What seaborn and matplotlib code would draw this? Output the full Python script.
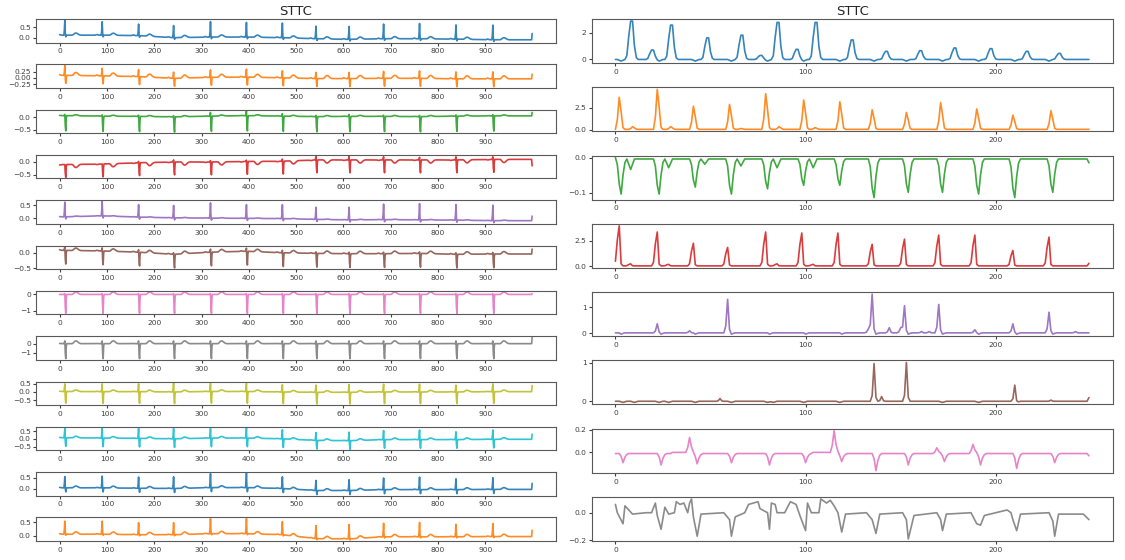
import numpy as np
import matplotlib
matplotlib.use("Agg")
import matplotlib.pyplot as plt
import seaborn as sns

sns.set_style("ticks")
plt.rcParams["font.family"] = ["DejaVu Sans"]
plt.rcParams["axes.edgecolor"] = "0.35"
plt.rcParams["xtick.color"] = "0.25"
plt.rcParams["ytick.color"] = "0.25"
plt.rcParams["xtick.labelsize"] = 5.4
plt.rcParams["ytick.labelsize"] = 5.4
plt.rcParams["xtick.major.size"] = 2.2
plt.rcParams["ytick.major.size"] = 2.2
plt.rcParams["xtick.major.pad"] = 2.0
plt.rcParams["ytick.major.pad"] = 1.5

title = "STTC"
colors = sns.color_palette("tab10")

# ---------------- left: 12 raw leads, 1000 samples ----------------
n_left = 1000
beats = [11, 90, 167, 241, 319, 395, 471, 542, 612, 685, 761, 838, 916]

# baseline level at each beat (per lead)
lead_base = [
    [0.12, 0.12, 0.10, 0.00, 0.03, 0.03, 0.00, -0.05, -0.08, -0.05, -0.05, -0.07, -0.10],
    [0.10, 0.08, 0.05, -0.02, 0.02, 0.03, 0.00, -0.03, -0.03, -0.02, -0.02, -0.04, -0.04],
    [0.07, 0.05, 0.04, 0.02, 0.05, 0.07, 0.05, 0.03, 0.04, 0.04, 0.03, 0.05, 0.06],
    [-0.10, -0.08, -0.03, 0.00, 0.00, 0.02, 0.03, 0.08, 0.08, 0.08, 0.08, 0.08, 0.10],
    [0.05, 0.09, 0.04, 0.01, 0.00, -0.01, -0.02, -0.05, -0.07, -0.06, -0.07, -0.08, -0.10],
    [0.08, 0.06, 0.02, -0.05, 0.02, 0.05, 0.00, -0.02, -0.03, -0.03, -0.02, -0.05, -0.04],
    [0.00, 0.00, 0.00, 0.00, 0.00, 0.00, 0.00, 0.00, 0.00, 0.00, 0.00, 0.00, 0.00],
    [0.00, 0.00, 0.00, 0.00, 0.00, 0.00, 0.00, 0.00, 0.00, 0.00, 0.00, 0.00, 0.00],
    [0.03, 0.02, 0.02, 0.00, 0.03, 0.03, 0.00, -0.02, -0.02, 0.00, 0.00, 0.00, 0.02],
    [0.07, 0.05, 0.03, 0.00, 0.05, 0.05, 0.00, -0.10, -0.12, -0.05, -0.05, -0.05, -0.03],
    [0.05, 0.05, 0.03, 0.02, 0.06, 0.06, 0.02, -0.07, -0.07, -0.03, -0.03, -0.03, -0.02],
    [0.05, 0.05, 0.03, 0.03, 0.07, 0.07, 0.03, -0.12, -0.13, -0.05, -0.05, -0.05, -0.04],
]
# R wave height above baseline at each beat
lead_r = [
    [0.72, 0.64, 0.55, 0.58, 0.74, 0.70, 0.70, 0.60, 0.62, 0.70, 0.73, 0.68, 0.70],
    [0.40, 0.30, 0.28, 0.25, 0.30, 0.32, 0.28, 0.25, 0.25, 0.28, 0.30, 0.28, 0.28],
    [0.05, 0.05, 0.05, 0.05, 0.15, 0.20, 0.10, 0.05, 0.08, 0.05, 0.05, 0.05, 0.05],
    [0.00, 0.00, 0.05, 0.08, 0.05, 0.05, 0.08, 0.15, 0.15, 0.12, 0.10, 0.12, 0.10],
    [0.58, 0.57, 0.49, 0.49, 0.60, 0.54, 0.55, 0.48, 0.50, 0.61, 0.64, 0.61, 0.61],
    [0.12, 0.10, 0.08, 0.05, 0.10, 0.10, 0.08, 0.05, 0.05, 0.05, 0.05, 0.05, 0.05],
    [0.05, 0.05, 0.05, 0.05, 0.05, 0.05, 0.05, 0.05, 0.05, 0.05, 0.05, 0.05, 0.05],
    [0.30, 0.30, 0.30, 0.30, 0.30, 0.30, 0.30, 0.30, 0.30, 0.30, 0.30, 0.30, 0.30],
    [0.47, 0.48, 0.48, 0.58, 0.50, 0.50, 0.45, 0.45, 0.48, 0.48, 0.48, 0.42, 0.48],
    [0.60, 0.62, 0.64, 0.66, 0.62, 0.65, 0.58, 0.50, 0.55, 0.58, 0.62, 0.50, 0.60],
    [0.50, 0.52, 0.50, 0.52, 0.62, 0.64, 0.52, 0.45, 0.48, 0.52, 0.56, 0.48, 0.52],
    [0.50, 0.50, 0.46, 0.46, 0.58, 0.58, 0.50, 0.50, 0.55, 0.52, 0.55, 0.48, 0.50],
]
lead_s = [-0.08, -0.32, -0.62, -0.50, -0.08, -0.45, -1.15, -1.65, -0.72, -0.55, -0.18, -0.04]
lead_t = [0.10, 0.12, 0.04, -0.12, 0.02, 0.08, 0.15, 0.30, 0.10, 0.10, 0.08, 0.09]
lead_p = [0.03, 0.03, 0.01, -0.02, 0.01, 0.02, 0.00, 0.02, 0.02, 0.02, 0.02, 0.02]
lead_end = [0.20, 0.15, 0.20, -0.15, 0.08, 0.12, 0.05, 0.70, 0.40, 0.30, 0.25, 0.20]
left_yticks = [[0, 0.5], [-0.25, 0, 0.25], [-0.5, 0], [-0.5, 0], [0, 0.5], [-0.5, 0],
               [-1, 0], [-1, 0], [-0.5, 0, 0.5], [-0.5, 0, 0.5], [0, 0.5], [0, 0.5]]

# beat template (offsets relative to R peak)
qrs_off = [-2, -1, 0, 1, 2, 3]
r_shape = [0.0, 0.35, 1.0, 0.2, 0.0, 0.0]
s_shape = [0.0, 0.0, 0.0, 0.7, 1.0, 0.2]
t_off = list(range(16, 36))
t_shape = [0.05, 0.15, 0.3, 0.5, 0.7, 0.85, 0.95, 1.0, 1.0, 0.95,
           0.85, 0.7, 0.55, 0.4, 0.28, 0.18, 0.1, 0.05, 0.02, 0.0]
p_off = [-14, -13, -12, -11, -10, -9, -8, -7]
p_shape = [0.2, 0.5, 0.8, 1.0, 0.8, 0.5, 0.2, 0.05]


def build_lead(i):
    y = np.interp(np.arange(n_left), beats, lead_base[i])
    for k, b in enumerate(beats):
        for off, v in zip(qrs_off, r_shape):
            if 0 <= b + off < n_left:
                y[b + off] += v * lead_r[i][k]
        for off, v in zip(qrs_off, s_shape):
            if 0 <= b + off < n_left:
                y[b + off] += v * lead_s[i]
        for off, v in zip(t_off, t_shape):
            if 0 <= b + off < n_left:
                y[b + off] += v * lead_t[i]
        for off, v in zip(p_off, p_shape):
            if 0 <= b + off < n_left:
                y[b + off] += v * lead_p[i]
    y[-1] = lead_end[i]
    return y


# ---------------- right: 8 feature channels, 250 samples ----------------
n_right = 250

# channel 1 (blue)
c1_pos = [8, 19, 29, 48, 66, 76, 85, 95, 105, 124, 142, 160, 178, 197, 216, 233]
c1_amp = [2.85, 0.7, 2.55, 1.6, 1.8, 0.3, 2.75, 0.75, 2.75, 1.45, 0.6, 0.65, 0.85, 0.8, 0.6, 0.45]
c1_dip_pos = [3, 23, 42, 61, 80, 99, 118, 136, 153, 172, 191, 210, 228]
# channel 2 (orange)
c2_pos = [2, 9, 22, 29, 41, 60, 66, 79, 86, 99, 105, 118, 135, 153, 171, 190, 209, 229]
c2_amp = [3.6, 0.3, 4.5, 0.3, 2.6, 2.8, 0.1, 4.0, 0.3, 3.3, 0.2, 3.1, 2.2, 1.9, 3.0, 2.3, 1.6, 2.1]
# channel 3 (green)
c3_pos = [3, 23, 42, 61, 80, 99, 118, 136, 154, 172, 191, 210, 230]
c3_amp = [-0.1, -0.1, -0.08, -0.1, -0.085, -0.075, -0.075, -0.11, -0.095, -0.095, -0.1, -0.11, -0.095]
c3_sub_pos = [8, 28, 47, 66, 85, 104]
c3_sub_amp = [-0.03, -0.025, -0.015, -0.02, -0.025, -0.025]
# channel 4 (red)
c4_pos = [2, 8, 22, 28, 41, 59, 79, 85, 98, 104, 117, 135, 152, 170, 189, 209, 228]
c4_amp = [3.9, 0.2, 3.3, 0.15, 2.2, 1.8, 3.3, 0.2, 3.2, 0.15, 3.2, 2.1, 2.6, 3.0, 3.0, 1.5, 2.8]
# channel 5 (purple)
c5_pos = [22, 39, 59, 133, 135, 144, 150, 152, 161, 165, 170, 189, 209, 228, 242]
c5_amp = [0.35, 0.08, 1.3, 0.15, 1.5, 0.2, 0.2, 1.05, 0.05, 0.05, 1.1, 0.12, 0.35, 0.8, 0.05]
c5_dip_pos = [3, 24, 42, 61, 81, 100, 119, 137, 154, 172, 191, 211, 230]
# channel 6 (brown)
c6_pos = [55, 136, 140, 153, 210, 229]
c6_amp = [0.07, 0.97, 0.12, 1.0, 0.43, 0.03]
c6_dip_pos = [4, 10, 23, 28, 42, 61, 80, 83, 99, 118, 172, 191, 211]
# channel 7 (pink)
c7_pos = [4, 24, 39, 43, 61, 81, 100, 115, 119, 137, 154, 169, 173, 188, 192, 211, 231]
c7_amp = [-0.08, -0.1, 0.14, -0.09, -0.08, -0.1, -0.08, 0.2, -0.07, -0.15, -0.1, 0.05,
          -0.07, 0.08, -0.1, -0.13, -0.08]
# channel 8 (gray) read point by point
c8_x = [0, 1, 4, 5, 7, 9, 16, 19, 21, 22, 24, 26, 28, 31, 32, 34, 36, 38, 39, 40, 41, 43, 45,
        57, 60, 61, 63, 68, 70, 75, 76, 80, 81, 82, 84, 85, 89, 92, 95, 97, 100, 101, 103,
        107, 108, 111, 113, 115, 117, 119, 121, 132, 135, 137, 139, 151, 153, 154, 157,
        169, 171, 172, 174, 187, 190, 192, 194, 206, 208, 209, 211, 213, 228, 230, 231, 233,
        246, 249]
c8_y = [0.06, 0.0, -0.08, 0.05, 0.02, -0.01, 0.0, 0.0, 0.07, -0.02, -0.12, 0.04, -0.01, 0.0,
        0.08, 0.06, 0.07, 0.0, 0.07, 0.1, -0.03, -0.17, -0.01, 0.0, -0.05, -0.17, -0.03, 0.0,
        0.06, 0.08, 0.03, 0.0, -0.12, 0.07, 0.06, 0.0, 0.0, 0.08, 0.06, -0.02, -0.13, 0.07,
        0.0, 0.0, 0.1, 0.07, 0.09, 0.05, 0.0, -0.14, -0.01, 0.0, -0.05, -0.15, -0.01, 0.0,
        -0.05, -0.19, -0.02, 0.0, -0.05, -0.13, -0.01, 0.0, -0.08, -0.09, -0.02, 0.02, 0.0,
        -0.05, -0.13, -0.01, 0.0, -0.06, -0.17, -0.01, -0.01, -0.05]

right_yticks = [[0, 2], [0, 2.5], [-0.1, 0], [0, 2.5], [0, 1], [0, 1], [0, 0.2], [-0.2, 0]]


def pulses(y, pos, amp, off, shape):
    for p, a in zip(pos, amp):
        for o, v in zip(off, shape):
            if 0 <= p + o < len(y):
                y[p + o] += v * a
    return y


def build_right():
    out = []
    y = np.zeros(n_right)
    pulses(y, c1_pos, c1_amp, [-2, -1, 0, 1, 2, 3], [0.1, 0.6, 1.0, 1.0, 0.35, 0.05])
    pulses(y, c1_dip_pos, [-0.12] * len(c1_dip_pos), [-1, 0, 1], [0.5, 1.0, 0.5])
    out.append(y)
    y = np.full(n_right, 0.05)
    pulses(y, c2_pos, c2_amp, [-1, 0, 1, 2], [0.3, 1.0, 0.55, 0.05])
    out.append(y)
    y = np.full(n_right, -0.004)
    y[:3] = 0.0
    pulses(y, c3_pos, c3_amp, [-2, -1, 0, 1, 2], [0.2, 0.75, 1.0, 0.45, 0.1])
    pulses(y, c3_sub_pos, c3_sub_amp, [-1, 0, 1], [0.5, 1.0, 0.5])
    y[-1] = -0.015
    out.append(y)
    y = np.full(n_right, 0.05)
    pulses(y, c4_pos, c4_amp, [-2, -1, 0, 1], [0.1, 0.65, 1.0, 0.05])
    y[0] = 0.5
    y[-1] = 0.3
    out.append(y)
    y = np.full(n_right, 0.01)
    pulses(y, c5_pos, c5_amp, [-1, 0, 1], [0.2, 1.0, 0.1])
    pulses(y, c5_dip_pos, [-0.05] * len(c5_dip_pos), [0, 1], [1.0, 0.4])
    out.append(y)
    y = np.full(n_right, 0.005)
    pulses(y, c6_pos, c6_amp, [-1, 0, 1], [0.15, 1.0, 0.1])
    pulses(y, c6_dip_pos, [-0.03] * len(c6_dip_pos), [-1, 0, 1], [0.5, 1.0, 0.5])
    y[-1] = 0.1
    out.append(y)
    y = np.full(n_right, -0.01)
    y[30:39] = 0.0
    y[104:115] = 0.0
    pulses(y, c7_pos, c7_amp, [-1, 0, 1, 2], [0.3, 1.0, 0.4, 0.1])
    y[-1] = -0.03
    out.append(y)
    return out


fig = plt.figure(figsize=(11.25, 5.6), dpi=100)
gs_left = fig.add_gridspec(12, 1, left=0.032, right=0.494, top=0.966, bottom=0.034, hspace=0.93)
gs_right = fig.add_gridspec(8, 1, left=0.526, right=0.989, top=0.966, bottom=0.034, hspace=0.55)

xs = np.arange(n_left)
for i in range(12):
    ax = fig.add_subplot(gs_left[i])
    sns.lineplot(x=xs, y=build_lead(i), ax=ax, color=colors[i % 10], linewidth=1.2,
                 alpha=0.9, estimator=None, sort=False)
    ax.set_xticks(range(0, 1000, 100))
    ax.set_yticks(left_yticks[i])
    ax.set_xlabel("")
    ax.set_ylabel("")
    if i == 0:
        ax.set_title(title, fontsize=9.5, pad=3)

xr = np.arange(n_right)
right_series = build_right()
for i in range(8):
    ax = fig.add_subplot(gs_right[i])
    if i < 7:
        sns.lineplot(x=xr, y=right_series[i], ax=ax, color=colors[i], linewidth=1.2,
                     alpha=0.9, estimator=None, sort=False)
    else:
        sns.lineplot(x=c8_x, y=c8_y, ax=ax, color=colors[i], linewidth=1.2,
                     alpha=0.9, estimator=None, sort=False)
        ax.set_xlim(-12.45, 261.45)
    ax.set_xticks([0, 100, 200])
    ax.set_yticks(right_yticks[i])
    ax.set_xlabel("")
    ax.set_ylabel("")
    if i == 0:
        ax.set_title(title, fontsize=9.5, pad=3)

fig.savefig("out.png", dpi=100)
